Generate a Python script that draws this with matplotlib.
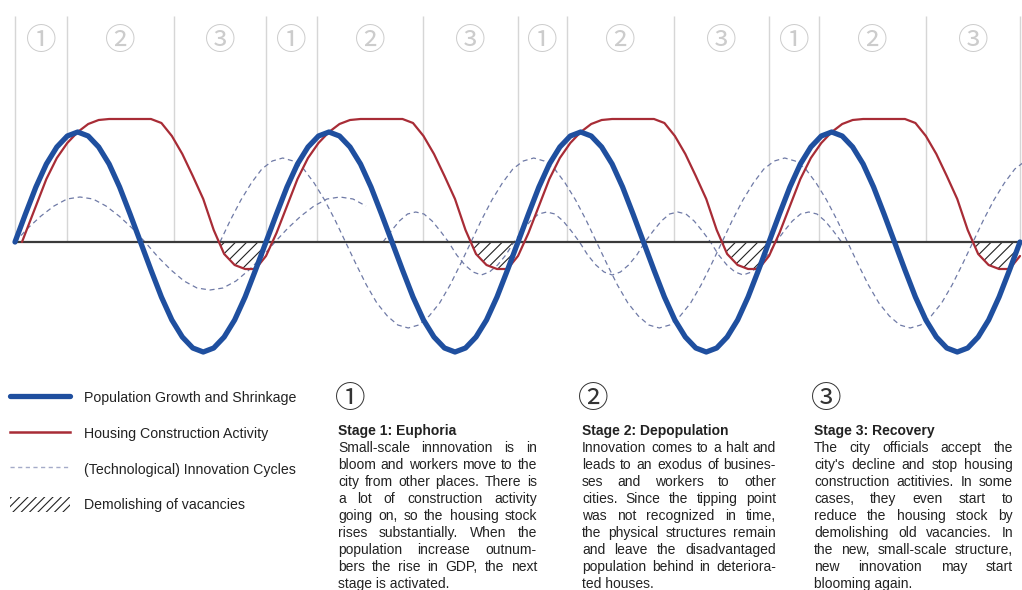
import numpy as np
import matplotlib.pyplot as plt
from matplotlib.lines import Line2D
from matplotlib.patches import Patch

plt.rcParams['font.family'] = ['Liberation Sans', 'Noto Sans CJK JP', 'DejaVu Sans']
plt.rcParams['hatch.linewidth'] = 0.8

# x = px across the chart, y = px above the zero line
cycle_start = [15, 266, 518, 769, 1020]
stage_edges = [15, 67, 174, 266, 317, 423, 518, 567, 674, 769, 819, 926, 1020]
stage_nums = ['①', '②', '③'] * 4

# one cycle in 24 steps
pop_cycle = [0, 28, 55, 78, 95, 106, 110, 106, 95, 78, 55, 28,
             0, -28, -55, -78, -95, -106, -110, -106, -95, -78, -55, -28]
house_cycle = [-14, 9, 36, 63, 84, 99, 110, 118, 122, 123, 123, 123,
               123, 123, 119, 106, 88, 66, 43, 12, -12, -23, -27, -27]
house_begin = 7   # construction line starts a few px into cycle 1

# innovation waves
innoA_x0, innoA_step = 15, 13
innoA = [0, 14, 26, 36, 43, 45, 43, 36, 26, 14, 0, -15, -28, -39, -46, -48,
         -46, -39, -28, -15, 0, 14, 26, 36, 43, 45, 43, 36]
innoB_x0, innoB_period, innoB_cycles = 220, 251, 3.25
innoB = [0, 22, 42, 59, 73, 81, 84, 81, 73, 59, 42, 22,
         0, -22, -43, -61, -74, -83, -86, -83, -74, -61, -43, -22]
innoC_x0, innoC_period, innoC_cycles = 383, 131, 3.5
innoC = [0, 11, 21, 28, 30, 28, 21, 11, 0, -13, -23, -30, -33, -30, -23, -13]

legend_labels = ['Population Growth and Shrinkage', 'Housing Construction Activity',
                 '(Technological) Innovation Cycles', 'Demolishing of vacancies']

stage_titles = ['Stage 1: Euphoria', 'Stage 2: Depopulation', 'Stage 3: Recovery']
stage_text = [
    ['Small-scale innnovation is in', 'bloom and workers move to the',
     'city from other places. There is', 'a lot of construction activity',
     'going on, so the housing stock', 'rises substantially. When the',
     'population increase outnum-', 'bers the rise in GDP, the next',
     'stage is activated.'],
    ['Innovation comes to a halt and', 'leads to an exodus of busines-',
     'ses and workers to other', 'cities. Since the tipping point',
     'was not recognized in time,', 'the physical structures remain',
     'and leave the disadvantaged', 'population behind in deteriora-',
     'ted houses.'],
    ['The city officials accept the', "city's decline and stop housing",
     'construction actitivies. In some', 'cases, they even start to',
     'reduce the housing stock by', 'demolishing old vacancies. In',
     'the new, small-scale structure,', 'new innovation may start',
     'blooming again.'],
]

BLUE = '#1f4f9f'
RED = '#a82c36'
DASH = '#6f7aa6'


def tile_cycle(vals):
    xs, ys = [], []
    for c in range(4):
        a, b = cycle_start[c], cycle_start[c + 1]
        for k, v in enumerate(vals):
            xs.append(a + k * (b - a) / len(vals))
            ys.append(v)
    xs.append(cycle_start[-1])
    ys.append(vals[0])
    return np.array(xs, float), np.array(ys, float)


def wave(x0, period, vals, cycles):
    n = int(round(cycles * len(vals))) + 1
    i = np.arange(n)
    return x0 + i * period / len(vals), np.array([vals[k % len(vals)] for k in i], float)


fig = plt.figure(figsize=(10.22, 5.90), dpi=100)
ax = fig.add_axes([0, 0, 1, 1])
ax.set_xlim(0, 1022)
ax.set_ylim(-348, 242)
ax.axis('off')

# stage columns
ax.vlines(stage_edges, 0, 226, color='#d6d6d6', lw=1, zorder=1)
for i in range(len(stage_edges) - 1):
    xc = (stage_edges[i] + stage_edges[i + 1]) / 2
    ax.text(xc, 242 - 41, stage_nums[i], ha='center', va='center',
            fontsize=22, color='#cccccc', family=['Noto Sans CJK JP', 'DejaVu Sans'])

px, py = tile_cycle(pop_cycle)
hx, hy = tile_cycle(house_cycle)
hy_fill = hy.copy()
hy_fill[0] = 0
hx_line, hy_line = hx.copy(), hy.copy()
hx_line[0], hy_line[0] = cycle_start[0] + house_begin, 0

ax_x, ax_y = innoA_x0 + innoA_step * np.arange(len(innoA)), np.array(innoA, float)
bx, by = wave(innoB_x0, innoB_period, innoB, innoB_cycles)
cx, cy = wave(innoC_x0, innoC_period, innoC, innoC_cycles)

# demolition: below zero, between the housing line and the rising population line
top = np.maximum(hy_fill, py)
ax.fill_between(px, 0, top, where=top < 0, interpolate=True, facecolor='none',
                edgecolor='#222222', hatch='///', lw=0, zorder=2)

dash = (0, (4, 3))
for x, y in [(ax_x, ax_y), (bx, by), (cx, cy)]:
    ax.plot(x, y, color=DASH, lw=0.9, ls=dash, zorder=3)

ax.hlines(0, 15, 1022, color='#3a3a3a', lw=1.6, zorder=4)
ax.plot(hx_line, hy_line, color=RED, lw=1.6, zorder=5, solid_capstyle='round')
ax.plot(px, py, color=BLUE, lw=3.8, zorder=6, solid_capstyle='round')

# legend
handles = [Line2D([], [], color=BLUE, lw=3.8, solid_capstyle='round'),
           Line2D([], [], color=RED, lw=1.8),
           Line2D([], [], color='#a4abc8', lw=1.0, ls=(0, (3, 2.5))),
           Patch(facecolor='none', edgecolor='#222222', hatch='////', lw=0)]
fig.legend(handles, legend_labels, loc='upper left', bbox_to_anchor=(10 / 1022, 1 - 390 / 590),
           frameon=False, fontsize=10.2, handlelength=4.2, handleheight=1.3,
           handletextpad=1.0, labelspacing=1.42, borderpad=0, borderaxespad=0,
           labelcolor='#222222')

# stage descriptions, justified by hand
renderer = fig.canvas.get_renderer()
col_x = [338, 582, 814]
col_w = [199, 194, 199]
num_x = [350, 593, 826]
body_size = 10.0


def justify(x0, width, lines, first_row):
    for i, line in enumerate(lines):
        y = 242 - (first_row + 17 * i)
        words = line.split()
        if i == len(lines) - 1 or len(words) < 2:
            ax.text(x0, y, line, ha='left', va='center', fontsize=body_size, color='#222222')
            continue
        ts = [ax.text(0, y, w, ha='left', va='center', fontsize=body_size, color='#222222')
              for w in words]
        ws = [t.get_window_extent(renderer).width for t in ts]
        gap = (width - sum(ws)) / (len(words) - 1)
        x = x0
        for t, w in zip(ts, ws):
            t.set_x(x)
            x += w + gap


for j in range(3):
    ax.text(num_x[j], 242 - 399, stage_nums[j], ha='center', va='center', fontsize=22,
            color='#333333', family=['Noto Sans CJK JP', 'DejaVu Sans'])
    ax.text(col_x[j], 242 - 431, stage_titles[j], ha='left', va='center',
            fontsize=body_size, fontweight='bold', color='#222222')
    justify(col_x[j], col_w[j], stage_text[j], 448)

fig.savefig('out.png', dpi=100)
